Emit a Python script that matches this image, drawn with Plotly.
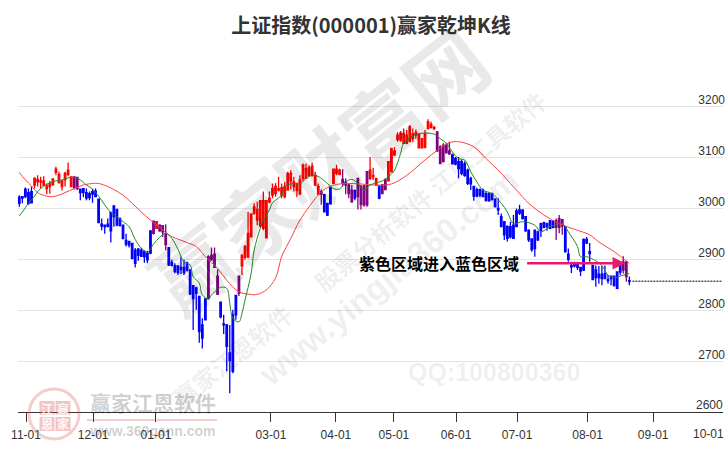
import plotly.graph_objects as go

open_ = [3022,3023,3038,3031,3033,3046,3052,3052,3046,3039,3043,3047,3071,3050,3043,3056,3067,3043,3062,3061,
3038,3039,3031,3029,3033,3034,3018,2969,2967,2969,2992,3005,2998,2980,2967,2937,2935,2931,2918,2920,
2918,2915,2912,2956,2975,2961,2967,2966,2951,2923,2894,2887,2887,2884,2884,2893,2879,2848,2844,2827,
2771,2822,2905,2908,2910,2867,2816,2773,2771,2716,2791,2829,2867,2887,2904,2905,2944,2991,2977,2965,
2961,2942,3013,3026,3029,3036,3026,3023,3036,3054,3043,3035,3029,3059,3059,3065,3065,3046,3028,3033,
3027,3010,3041,3049,3069,3067,3057,3052,3046,3036,3035,3059,3043,3044,3072,3059,3062,3046,3043,3046,
3056,3054,3072,3105,3135,3134,3128,3128,3131,3137,3144,3119,3119,3120,3157,3159,3157,3150,3121,3124,
3124,3113,3105,3098,3092,3092,3088,3075,3059,3043,3037,3037,3036,3029,3029,3029,3018,3000,2984,2974,
2964,2964,2967,2995,2997,2997,2984,2957,2940,2957,2954,2970,2972,2970,2976,2974,2976,2980,2978,2964,
2910,2888,2890,2890,2884,2939,2939,2915,2888,2879,2871,2871,2872,2860,2867,2867,2875,2888,2895,2895,2858]
high = [3026,3024,3041,3039,3043,3061,3065,3062,3063,3049,3054,3059,3082,3072,3056,3072,3090,3062,3063,3061,
3039,3039,3039,3033,3038,3039,3018,2980,2967,2980,2992,3005,2998,2982,2967,2950,2935,2931,2922,2922,
2922,2918,2917,2956,2975,2974,2969,2967,2969,2923,2899,2892,2887,2905,2899,2895,2879,2848,2846,2828,
2784,2823,2908,2923,2923,2880,2816,2791,2773,2771,2801,2830,2867,2910,2928,2993,2990,3010,3013,3016,
3033,3016,3033,3049,3050,3062,3049,3052,3072,3075,3062,3049,3065,3088,3088,3085,3090,3072,3049,3037,
3029,3010,3043,3078,3086,3078,3077,3059,3049,3046,3037,3059,3046,3046,3072,3101,3080,3059,3046,3048,
3059,3092,3118,3121,3150,3152,3157,3154,3164,3157,3155,3147,3137,3154,3175,3170,3162,3152,3124,3128,
3128,3131,3108,3101,3101,3096,3092,3078,3062,3044,3041,3039,3039,3033,3031,3031,3020,3020,2990,2974,
2967,2974,2987,3000,3007,2997,2985,2959,2941,2959,2956,2972,2974,2972,2977,2977,2980,2987,2978,2964,
2921,2895,2895,2895,2884,2941,2944,2932,2888,2888,2887,2887,2888,2869,2867,2867,2875,2890,2906,2895,2866]
low = [3003,3010,3020,3007,3010,3039,3043,3039,3043,3028,3029,3044,3065,3049,3035,3043,3063,3043,3037,3036,
3016,3022,3016,3016,3011,3022,2972,2957,2950,2963,2933,2964,2965,2964,2939,2925,2923,2900,2884,2897,
2905,2893,2892,2910,2949,2961,2954,2944,2918,2887,2886,2872,2869,2871,2869,2876,2830,2761,2801,2736,
2725,2781,2823,2897,2884,2831,2784,2753,2680,2637,2676,2781,2828,2869,2899,2902,2943,2987,2967,2964,
2957,2942,3010,3020,3023,3033,3020,3020,3035,3037,3033,3023,3026,3054,3059,3062,3062,3044,3026,3007,
2992,2985,3007,3048,3065,3065,3043,3028,3020,3011,3016,2998,2998,3003,3003,3056,3056,3044,3018,3028,
3036,3054,3072,3103,3131,3131,3128,3126,3131,3131,3137,3118,3118,3118,3155,3157,3154,3111,3087,3090,
3108,3105,3086,3085,3059,3065,3062,3046,3036,3015,3022,3022,3022,3013,3013,3015,3002,2987,2963,2938,
2935,2941,2940,2963,2987,2978,2954,2934,2915,2905,2936,2944,2961,2956,2959,2961,2938,2951,2948,2913,
2895,2873,2884,2879,2867,2877,2930,2895,2859,2846,2852,2849,2862,2852,2849,2846,2841,2869,2872,2856,2849]
close = [3010,3020,3023,3010,3011,3059,3057,3054,3054,3044,3048,3058,3077,3067,3054,3069,3075,3062,3041,3039,
3031,3031,3020,3021,3028,3023,2972,2965,2964,2964,2956,2984,2967,2967,2941,2930,2928,2902,2892,2908,
2906,2905,2899,2912,2951,2974,2956,2954,2929,2889,2888,2876,2874,2880,2874,2879,2832,2823,2833,2758,
2745,2781,2823,2899,2884,2831,2787,2771,2729,2701,2680,2791,2833,2908,2925,2951,2989,3003,2998,3015,
3015,3015,3020,3039,3043,3039,3041,3043,3069,3069,3052,3049,3056,3085,3078,3080,3083,3065,3043,3028,
2993,2987,3009,3077,3077,3075,3050,3046,3029,3013,3020,3023,3008,3007,3007,3075,3065,3059,3020,3029,
3037,3092,3118,3113,3144,3148,3147,3144,3160,3147,3150,3146,3137,3147,3170,3165,3159,3113,3088,3092,
3109,3107,3088,3087,3078,3069,3065,3049,3048,3024,3024,3026,3023,3016,3015,3018,3003,2997,2964,2948,
2941,2944,2941,2964,2991,2980,2956,2938,2919,2921,2938,2957,2963,2964,2961,2963,2963,2963,2965,2915,
2900,2885,2887,2884,2877,2879,2932,2911,2860,2864,2864,2862,2862,2858,2862,2849,2843,2875,2879,2866,2856]

red_ranges = [(5,17),(45,45),(73,98),(103,105),(115,117),(121,136)]
purple_ranges = [(18,19),(44,44),(46,48),(62,65),(72,72),(99,99),(106,109),(111,114),(119,120),(137,141),(176,178),(198,199)]

green_x = [0,1,3,5,6,8,10,12,14,16,18,20,22,24,26,28,30,32,34,36,38,40,42,44,46,48,50,52,54,56,57,59,60,62,63,65,66,68,69,70,72,73,74,76,77,79,80,82,83,86,87,90,92,94,96,98,101,103,105,107,109,111,113,115,117,119,121,123,125,126,129,131,134,136,138,140,142,144,146,148,150,152,155,158,160,162,165,169,171,174,178,180,183,184,186,189,191,193,195,198,200]
green_y = [2985,2993,3010,3024,3033,3044,3050,3054,3056,3060,3061,3056,3046,3038,3024,3007,2992,2984,2974,2964,2939,2922,2914,2930,2943,2951,2941,2920,2895,2889,2866,2853,2830,2822,2830,2841,2845,2843,2814,2784,2777,2794,2820,2872,2918,2961,2977,2997,3011,3026,3043,3049,3048,3059,3065,3063,3049,3039,3038,3052,3057,3049,3036,3046,3050,3054,3062,3075,3108,3128,3142,3147,3148,3146,3137,3128,3111,3098,3095,3072,3052,3036,3029,3010,2993,2970,2974,2967,2954,2964,2970,2954,2925,2905,2905,2897,2888,2869,2864,2869,2872]
red_x = [0,2,4,6,9,11,13,15,18,21,24,26,29,31,34,37,40,43,46,49,54,58,61,65,68,72,76,78,81,84,86,89,92,95,98,101,104,107,112,116,122,127,133,137,141,144,149,153,158,161,163,167,172,177,182,187,190,195,200]
red_y = [3071,3056,3044,3031,3024,3023,3026,3031,3039,3046,3049,3049,3043,3037,3026,3010,2993,2977,2963,2948,2935,2925,2905,2882,2859,2836,2831,2831,2840,2863,2905,2941,2977,3003,3026,3041,3047,3049,3048,3046,3048,3065,3095,3114,3129,3131,3121,3098,3069,3049,3036,3010,2987,2970,2959,2948,2934,2915,2892]

last_price_x = [201,230.5]
last_price_y = [2857,2857]
tick_pos = [2.2,24.2,44.8,82.5,103.8,122.8,143.2,163.2,186.3,207.8,229.4]
tick_text = ["11-01","12-01","01-01","03-01","04-01","05-01","06-01","07-01","08-01","09-01",""]
last_tick_text = "10-01"
y_ticks = [2600,2700,2800,2900,3000,3100,3200]
y_tick_text = ["","2700","2800","2900","3000","3100","3200"]
bottom_y_text = "2600"
title_text = "上证指数(000001)赢家乾坤K线"
signal_text = "紫色区域进入蓝色区域"

n = len(close)
def expand(rs):
    out = []
    for a, b in rs:
        out += list(range(a, b + 1))
    return out
red_i = expand(red_ranges)
purple_i = expand(purple_ranges)
blue_i = [i for i in range(n) if i not in set(red_i) | set(purple_i)]

fig = go.Figure()
for idx, col in ((blue_i, "#0000ff"), (red_i, "#ff0000"), (purple_i, "#800080")):
    fig.add_trace(go.Candlestick(
        x=idx,
        open=[open_[i] for i in idx], high=[high[i] for i in idx],
        low=[low[i] for i in idx], close=[close[i] for i in idx],
        increasing=dict(line=dict(color=col, width=1.3), fillcolor=col),
        decreasing=dict(line=dict(color=col, width=1.3), fillcolor=col),
        whiskerwidth=0, showlegend=False, hoverinfo="skip"))
fig.add_trace(go.Scatter(x=red_x, y=red_y, mode="lines", line=dict(color="#ff4040", width=1, shape="spline"), showlegend=False, hoverinfo="skip"))
fig.add_trace(go.Scatter(x=green_x, y=green_y, mode="lines", line=dict(color="#228b22", width=1, shape="spline"), showlegend=False, hoverinfo="skip"))
fig.add_trace(go.Scatter(x=last_price_x, y=last_price_y, mode="lines", line=dict(color="#000000", width=1, dash="2px,1px"), showlegend=False, hoverinfo="skip"))

L, R, T, B = 18, 723, 50, 412
def px(x): return (x - L) / (R - L)
def py(y): return (B - y) / (B - T)

WM = "rgba(0,0,0,0.085)"
def wm(text, x, y, size, angle, color=WM, bold=True, family="Noto Sans CJK SC"):
    fig.add_annotation(xref="paper", yref="paper", x=px(x), y=py(y), text=("<b>%s</b>" % text) if bold else text,
                       showarrow=False, textangle=angle, xanchor="center", yanchor="middle",
                       font=dict(size=size, color=color, family=family))

wm("赢家财富网", 317, 168, 80, -38)
wm("股票分析软件 江恩工具软件", 430, 190, 24, -40)
wm("赢家江恩软件", 232, 355, 24, -39)
wm("www.yingjia360.com", 388, 277, 33, -39, family="Liberation Sans")
wm("QQ:100800360", 494, 372, 25, 0, color="rgba(0,0,0,0.07)", family="Liberation Sans")

# logo
fig.add_shape(type="circle", xref="paper", yref="paper", x0=px(29), x1=px(79), y0=py(439), y1=py(389),
              line=dict(color="rgba(220,90,90,0.3)", width=3), layer="above")
for cx, cy, ch in ((47, 408, "江"), (63, 408, "赢"), (47, 424, "恩"), (63, 424, "家")):
    fig.add_shape(type="rect", xref="paper", yref="paper", x0=px(cx-7.5), x1=px(cx+7.5), y0=py(cy+7), y1=py(cy-7),
                  fillcolor="rgba(220,90,90,0.35)", line=dict(width=0), layer="above")
    wm(ch, cx, cy, 12, 0, color="rgba(255,255,255,0.9)")
fig.add_shape(type="rect", xref="paper", yref="paper", x0=px(87), x1=px(217), y0=py(421), y1=py(419),
              fillcolor="rgba(220,90,90,0.3)", line=dict(width=0), layer="above")
wm("赢家江恩软件", 153, 402, 21, 0, color="rgba(0,0,0,0.2)")
wm("www.360gann.com", 152, 431, 14, 0, color="rgba(0,0,0,0.2)", family="Liberation Sans")

# labels that sit at the plot's edges
wm(last_tick_text, 708.5, 434, 12, 0, color="#333333", bold=False, family="Liberation Sans")
wm(bottom_y_text, 709.5, 405, 12, 0, color="#333333", bold=False, family="Liberation Sans")

# signal
fig.add_annotation(x=198.6, y=2892, ax=166, ay=2892, xref="x", yref="y", axref="x", ayref="y", text="",
                   showarrow=True, arrowhead=2, arrowsize=1, arrowwidth=2.5, arrowcolor="#e6196e")
fig.add_annotation(x=164.5, y=2892, xref="x", yref="y", text="<b>%s</b>" % signal_text, showarrow=False,
                   xanchor="right", yanchor="middle", font=dict(size=16, color="#000000", family="Noto Sans CJK SC"))

W, H = 726, 450
fig.update_layout(
    width=W, height=H,
    margin=dict(l=L, r=W - R, t=T, b=H - B, autoexpand=False),
    paper_bgcolor="#ffffff", plot_bgcolor="#ffffff",
    title=dict(text="<b>%s</b>" % title_text, x=371 / W, xanchor="center", y=1 - 26 / H, yanchor="middle",
               font=dict(size=20, color="#333333", family="Noto Sans CJK SC")),
    xaxis=dict(range=[-0.43, 230.7], rangeslider=dict(visible=False), showgrid=False, zeroline=False,
               tickmode="array", tickvals=tick_pos, ticktext=tick_text, ticks="outside", ticklen=9,
               tickcolor="#333333", tickwidth=1, showline=True, linecolor="#333333", linewidth=1,
               ticklabelstandoff=3,
               tickfont=dict(size=12, color="#333333", family="Liberation Sans")),
    yaxis=dict(range=[2600, 2600 + (B - T) / 0.509], side="right", tickmode="array", tickvals=y_ticks, ticktext=y_tick_text,
               ticks="", ticklabelposition="inside top", showgrid=True, gridcolor="#e4e4e4", gridwidth=1,
               zeroline=False, showline=False, ticklabelstandoff=-5, ticklabelshift=2,
               tickfont=dict(size=12, color="#333333", family="Liberation Sans")),
)
fig.write_html("out.html", config={"displayModeBar": False}, post_script="document.body.style.margin='0';")
